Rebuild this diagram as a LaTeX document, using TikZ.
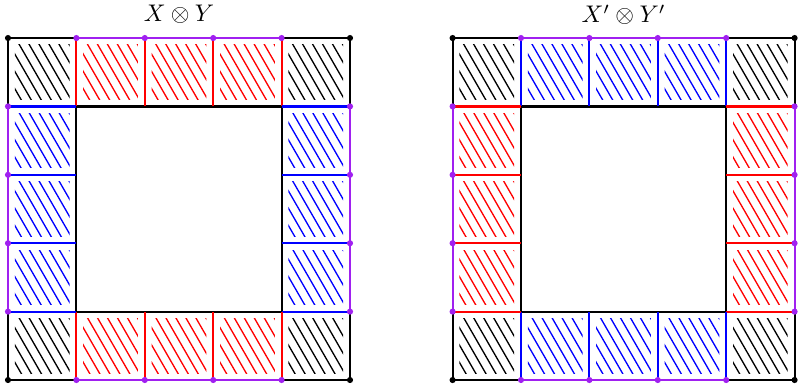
\documentclass[tikz,border=0pt]{standalone}
\usepackage{tikz}
\usetikzlibrary{calc}
\definecolor{edgeviolet}{RGB}{160,32,240}
\tikzset{frame/.style={line width=0.9pt}, hatch/.style={line width=0.55pt}}
\def\hatchcell(#1,#2)#3{\begin{scope}\clip (#1+0.1,#2+0.1) rectangle (#1+0.9,#2+0.9);
	\foreach \k in {0,...,11} \draw[hatch,#3] ({#1-0.62+\k*0.146},#2+1) -- ++(0.577,-1);\end{scope}}
\def\tensorsq(#1,#2)#3#4{\begin{scope}[shift={(#1,#2)}]
	% hatching
	\hatchcell(0,4){black} \hatchcell(4,4){black} \hatchcell(0,0){black} \hatchcell(4,0){black}
	\foreach \i in {1,2,3} {\hatchcell(\i,4){#3} \hatchcell(\i,0){#3} \hatchcell(0,\i){#4} \hatchcell(4,\i){#4}}
	% edges
	\draw[frame] (1,1) rectangle (4,4);
	\draw[frame,edgeviolet] (1,5) -- (4,5);
	\draw[frame,edgeviolet] (1,0) -- (4,0);
	\draw[frame,edgeviolet] (0,1) -- (0,4);
	\draw[frame,edgeviolet] (5,1) -- (5,4);
	\foreach \i in {1,...,4} {
		\draw[frame,#3] (\i,4) -- (\i,5);
		\draw[frame,#3] (\i,0) -- (\i,1);
		\draw[frame,#4] (0,\i) -- (1,\i);
		\draw[frame,#4] (4,\i) -- (5,\i);
	}
	\draw[frame] (0,4) -- (0,5) -- (1,5);
	\draw[frame] (4,5) -- (5,5) -- (5,4);
	\draw[frame] (0,1) -- (0,0) -- (1,0);
	\draw[frame] (4,0) -- (5,0) -- (5,1);
	% dots
	\foreach \i in {1,...,4} {
		\fill[edgeviolet] (\i,5) circle (0.045);
		\fill[edgeviolet] (\i,0) circle (0.045);
		\fill[edgeviolet] (0,\i) circle (0.045);
		\fill[edgeviolet] (5,\i) circle (0.045);
	}
	\fill (0,0) circle (0.045); \fill (5,0) circle (0.045);
	\fill (0,5) circle (0.045); \fill (5,5) circle (0.045);
	\end{scope}}

\begin{document}
\begin{tikzpicture}
	\useasboundingbox (-0.117,-0.13) rectangle (11.55,5.556);
	
	\tensorsq(0,0){red}{blue}
	\tensorsq(6.5,0){blue}{red}
	
	\node (lefttitle) at (2.5,5.34) {$X \otimes Y$};
	\node (righttitle) at (9,5.34) {$X' \otimes Y'$};
\end{tikzpicture}
\end{document}
